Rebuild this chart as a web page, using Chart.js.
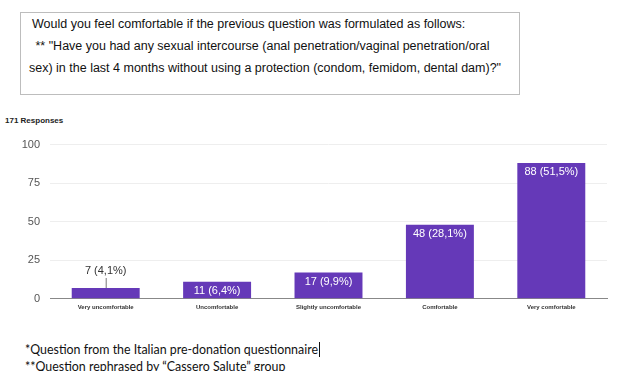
<!DOCTYPE html>
<html>
<head>
<meta charset="utf-8">
<script src="https://cdn.jsdelivr.net/npm/chart.js@4"></script>
<style>
    body { margin: 0; width: 629px; height: 371px; background: #fff; overflow: hidden; position: relative; }
    .question {
        position: absolute; left: 20px; top: 12px; width: 500px; height: 83px;
        border: 1px solid #bdbdbd; box-sizing: border-box; white-space: nowrap;
        font-family: "Liberation Sans", Arial, sans-serif; font-size: 12.5px; line-height: 22px;
        color: #111; padding: 0 0 0 11px;
    }
    .responses {
        position: absolute; left: 5px; top: 116px;
        font-family: "Liberation Sans", Arial, sans-serif; font-size: 8px; font-weight: bold; color: #222;
    }
    .chart-wrap { position: absolute; left: 0; top: 128px; width: 629px; height: 192px; }
    .notes {
        position: absolute; left: 25px; top: 341px;
        font-family: Lato, "Open Sans", sans-serif; font-size: 12.4px; line-height: 17px; color: #111;
    }
    .cursor { border-right: 1px solid #111; padding-right: 1px; }
</style>
</head>
<body>
<div class="question">
    Would you feel comfortable if the previous question was formulated as follows:<br>
    &nbsp;** "Have you had any sexual intercourse (anal penetration/vaginal penetration/oral<br>
    <span style="margin-left:-3px">sex) in the last 4 months without using a protection (condom, femidom, dental dam)?"</span>
</div>
<div class="responses">171 Responses</div>
<div class="chart-wrap"><canvas id="surveyChart"></canvas></div>
<div class="notes">
    <span class="cursor">*Question from the Italian pre-donation questionnaire</span><br>
    **Question rephrased by “Cassero Salute” group
</div>
<script>
// 응답 데이터
const categories = ['Very uncomfortable', 'Uncomfortable', 'Slightly uncomfortable', 'Comfortable', 'Very comfortable'];
const counts = [7, 11, 17, 48, 88];
const percents = ['4,1%', '6,4%', '9,9%', '28,1%', '51,5%'];
const yTicks = [0, 25, 50, 75, 100];

// 막대 위 라벨 그리기
const barLabels = {
    id: 'barLabels',
    afterDatasetsDraw(chart) {
        const ctx = chart.ctx;
        const meta = chart.getDatasetMeta(0);
        ctx.save();
        ctx.font = '11px "Liberation Sans", Arial, sans-serif';
        ctx.textAlign = 'center';
        ctx.textBaseline = 'middle';
        meta.data.forEach((bar, i) => {
            const text = counts[i] + ' (' + percents[i] + ')';
            const h = bar.base - bar.y;
            if (h > 14) {
                ctx.fillStyle = '#ffffff';
                ctx.fillText(text, bar.x, bar.y + 9);
            } else {
                ctx.strokeStyle = '#777';
                ctx.lineWidth = 1;
                ctx.beginPath();
                ctx.moveTo(bar.x + 0.5, bar.y);
                ctx.lineTo(bar.x + 0.5, bar.y - 10);
                ctx.stroke();
                ctx.fillStyle = '#333';
                ctx.fillText(text, bar.x, bar.y - 17);
            }
        });
        ctx.restore();
    }
};

document.addEventListener('DOMContentLoaded', function() {
    const canvas = document.getElementById('surveyChart');
    new Chart(canvas, {
        type: 'bar',
        data: {
            labels: categories,
            datasets: [{
                data: counts,
                backgroundColor: '#6539b8',
                categoryPercentage: 0.61,
                barPercentage: 1
            }]
        },
        options: {
            responsive: true,
            maintainAspectRatio: false,
            animation: false,
            layout: { padding: { top: 10, right: 22, bottom: 4, left: 0 } },
            plugins: { legend: { display: false }, tooltip: { enabled: false } },
            scales: {
                x: {
                    grid: { display: false, drawTicks: false },
                    border: { color: '#888', width: 1 },
                    ticks: {
                        color: '#333', padding: 5,
                        font: { family: '"Liberation Sans", Arial, sans-serif', size: 6, weight: 'bold' }
                    }
                },
                y: {
                    min: 0, max: 100,
                    afterBuildTicks: axis => { axis.ticks = yTicks.map(v => ({ value: v })); },
                    afterFit: axis => { axis.width = 50; },
                    grid: { color: '#eeeeee', drawTicks: false },
                    border: { display: false },
                    ticks: {
                        color: '#555', padding: 10,
                        font: { family: '"Liberation Sans", Arial, sans-serif', size: 11 }
                    }
                }
            }
        },
        plugins: [barLabels]
    });
});
</script>
</body>
</html>
